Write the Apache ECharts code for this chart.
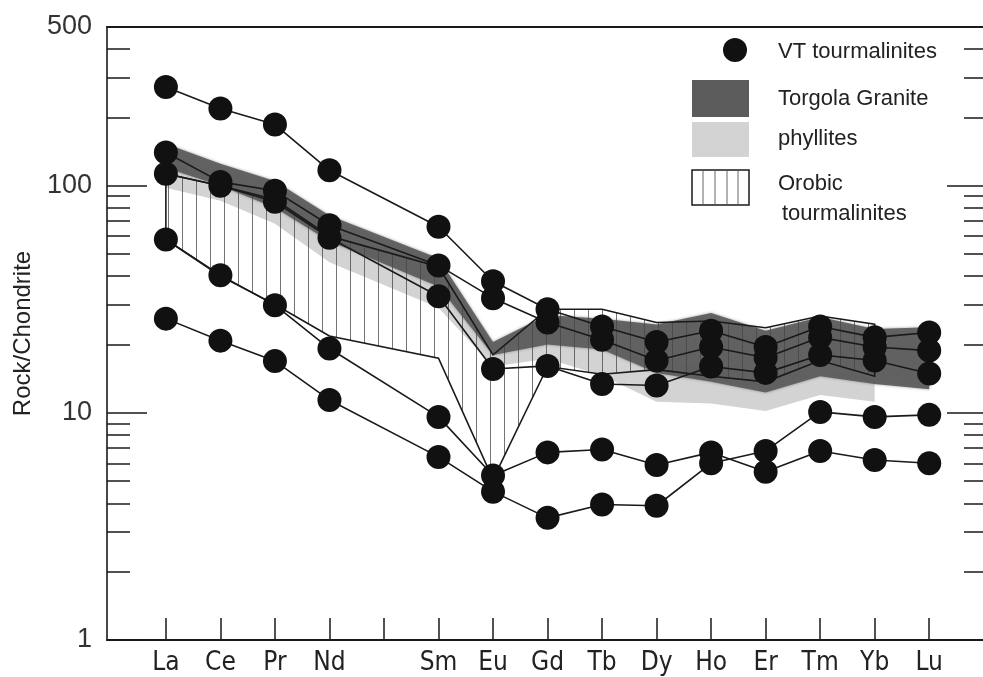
<!DOCTYPE html>
<html>
<head>
<meta charset="utf-8">
<script src="https://cdn.jsdelivr.net/npm/echarts@6/dist/echarts.min.js"></script>
<style>
  html, body { margin: 0; padding: 0; background: #fff; }
  #chart { width: 983px; height: 677px; }
</style>
</head>
<body>
<div id="chart"></div>
<script>
// REE 球粒隕石標準化圖 — VT tourmalinites vs Torgola / phyllites / Orobic 範圍
//   x：稀土元素序（Pm 無資料，只留刻度）；y：Rock/Chondrite 對數軸 1–500

const ELEMENTS = ["La", "Ce", "Pr", "Nd", "Pm", "Sm", "Eu", "Gd", "Tb", "Dy", "Ho", "Er", "Tm", "Yb", "Lu"];
const X_LABELS = ["La", "Ce", "Pr", "Nd", "", "Sm", "Eu", "Gd", "Tb", "Dy", "Ho", "Er", "Tm", "Yb", "Lu"];

// VT tourmalinites（黑點連線）
const vt1 = [272, 219, 186, 117, null, 66, 38, 28.6, 24, 20.5, 23, 19.5, 24, 21.5, 22.6];
const vt2 = [140, 104, 95, 67, null, 44.6, 32, 25, 21, 17, 19.5, 17.5, 21.5, 19.5, 18.8];
const vt3 = [113, 100, 85, 59, null, 32.6, 15.6, 16.1, 13.4, 13.2, 16, 15, 18, 17, 14.9];
const vt4 = [58, 40.4, 29.8, 19.2, null, 9.6, 5.3, 6.7, 6.9, 5.9, 6.7, 5.5, 6.8, 6.2, 6.0];
const vt5 = [26, 20.8, 16.9, 11.4, null, 6.4, 4.5, 3.45, 3.95, 3.9, 6.0, 6.8, 10.1, 9.6, 9.8];

// Torgola Granite 範圍（深灰）
const torgolaUpper = [153, 125, 105, 74, null, 48, 20.5, 27, 26, 24.5, 27.5, 23, 26.4, 23.4, 23.8];
const torgolaLower = [120, 100, 80, 57, null, 36, 18, 20, 19, 15, 13.7, 12.3, 14.5, 13.4, 12.7];

// phyllites 範圍（淺灰）
const phylUpper = [128, 108, 88, 63, null, 40, 18, 21, 19, 17, 16, 14.5, 16, 14, null];
const phylLower = [98, 86, 68, 46, null, 29, 16, 17.3, 14.6, 11.2, 11, 10.2, 12, 11.2, null];

// Orobic tourmalinites 範圍（直線陰影）
const orobicUpper = [113, 100, 87, 60, null, 44, 18, 28.6, 28.6, 25, 25.4, 23.7, 26.7, 24.6, null];
const orobicLower = [58, 40, 30, 21.8, null, 17.4, 5.1, 16, 14.8, 15.5, 14.5, 13.7, 17, 14.5, null];

// 刻度
const Y_LABEL_VALUES = [1, 10, 100, 500];
const Y_MAJOR_TICKS = [1, 10, 100];
const Y_MINOR_TICKS = [2, 3, 4, 5, 6, 7, 8, 9, 20, 30, 40, 50, 60, 70, 80, 90, 200, 300, 400];
const X_TICKS = ELEMENTS.map((_, i) => i);

const INK = "#1a1a1a";
const FONT = "'Liberation Sans', Arial, sans-serif";
const NARROW = "'Liberation Sans Narrow', 'DejaVu Sans Condensed', 'Liberation Sans', sans-serif";

// ── helpers ──────────────────────────────────────────────────────────
function pairs(arr) {
  const out = [];
  arr.forEach((v, i) => { if (v != null) out.push([i, v]); });
  return out;
}

function hatchPattern() {
  const c = document.createElement("canvas");
  c.width = 14; c.height = 4;
  const g = c.getContext("2d");
  g.fillStyle = "rgba(70,70,70,0.75)";
  g.fillRect(0, 0, 1, 4);
  return c;
}

function bandSeries(name, upper, lower, style, z) {
  return {
    name, type: "custom", coordinateSystem: "cartesian2d", z,
    silent: true, clip: true,
    data: [[0, upper[0]]],
    renderItem(params, api) {
      const pts = [];
      upper.forEach((v, i) => { if (v != null) pts.push(api.coord([i, v])); });
      for (let i = lower.length - 1; i >= 0; i--) {
        if (lower[i] != null) pts.push(api.coord([i, lower[i]]));
      }
      return { type: "polygon", shape: { points: pts }, style };
    },
  };
}

// ── chart ────────────────────────────────────────────────────────────
const chart = echarts.init(document.getElementById("chart"), null, { renderer: "canvas" });

const logBase = { type: "log", logBase: 10, min: 1, max: 500, gridIndex: 0, splitLine: { show: false } };
const noLine = { show: false, onZero: false };

const series = [
  bandSeries("phyllites", phylUpper, phylLower, { fill: "#d3d3d3" }, 1),
  bandSeries("Torgola Granite", torgolaUpper, torgolaLower,
    { fill: "#5c5c5c", opacity: 0.92, shadowBlur: 3, shadowColor: "rgba(80,80,80,0.6)" }, 2),
  bandSeries("Orobic tourmalinites", orobicUpper, orobicLower,
    { fill: { image: hatchPattern(), repeat: "repeat" }, stroke: INK, lineWidth: 1.6 }, 3),
];

[vt1, vt2, vt3, vt4, vt5].forEach((arr, k) => {
  series.push({
    name: "VT tourmalinites " + (k + 1), type: "line", z: 5,
    data: pairs(arr),
    symbol: "circle", symbolSize: 24, showSymbol: true,
    itemStyle: { color: "#111", borderWidth: 0 },
    lineStyle: { color: INK, width: 1.6 },
    animation: false, silent: true,
  });
});

const legendX = 692;
chart.setOption({
  backgroundColor: "#fff", animation: false,
  grid: { left: 107, top: 27, width: 880, height: 613, containLabel: false, outerBoundsMode: "none" },
  xAxis: [
    {
      type: "value", min: -1.08, max: 15.06, position: "bottom",
      axisLine: { show: true, onZero: false, lineStyle: { color: INK, width: 2 } },
      axisTick: { show: true, inside: true, length: 22, customValues: X_TICKS, lineStyle: { color: INK, width: 1.5 } },
      axisLabel: {
        customValues: X_TICKS, margin: 10,
        formatter: v => X_LABELS[Math.round(v)] ?? "",
        color: "#222", fontSize: 26, fontFamily: NARROW,
      },
      splitLine: { show: false },
    },
    {
      type: "value", min: -1.08, max: 15.06, position: "top",
      axisLine: { show: true, onZero: false, lineStyle: { color: INK, width: 2 } },
      axisTick: { show: false }, axisLabel: { show: false }, splitLine: { show: false },
    },
  ],
  yAxis: [
    {
      ...logBase, position: "left",
      name: "Rock/Chondrite", nameLocation: "middle", nameGap: 72, nameRotate: 90,
      nameTextStyle: { color: "#222", fontSize: 24, fontFamily: FONT },
      axisLine: { show: true, onZero: false, lineStyle: { color: INK, width: 1.6 } },
      axisTick: { show: true, inside: true, length: 40, customValues: Y_MAJOR_TICKS, lineStyle: { color: INK, width: 1.5 } },
      axisLabel: { customValues: Y_LABEL_VALUES, margin: 15, color: "#333", fontSize: 27, fontFamily: FONT },
    },
    {
      ...logBase, position: "left",
      axisLine: noLine,
      axisTick: { show: true, inside: true, length: 23, customValues: Y_MINOR_TICKS, lineStyle: { color: INK, width: 1.5 } },
      axisLabel: { show: false },
    },
    {
      ...logBase, position: "right",
      axisLine: { show: true, onZero: false, lineStyle: { color: INK, width: 1.6 } },
      axisTick: { show: true, inside: true, length: 40, customValues: Y_MAJOR_TICKS, lineStyle: { color: INK, width: 1.5 } },
      axisLabel: { show: false },
    },
    {
      ...logBase, position: "right",
      axisLine: noLine,
      axisTick: { show: true, inside: true, length: 23, customValues: Y_MINOR_TICKS, lineStyle: { color: INK, width: 1.5 } },
      axisLabel: { show: false },
    },
  ],
  graphic: [
    { type: "circle", shape: { cx: 735, cy: 50, r: 12 }, style: { fill: "#111" }, z: 20 },
    { type: "text", x: 778, y: 52, style: { text: "VT tourmalinites", fill: "#222", font: `22px ${FONT}`, textVerticalAlign: "middle" }, z: 20 },
    { type: "rect", shape: { x: legendX, y: 80, width: 57, height: 37 }, style: { fill: "#5c5c5c" }, z: 20 },
    { type: "text", x: 778, y: 99, style: { text: "Torgola Granite", fill: "#222", font: `22px ${FONT}`, textVerticalAlign: "middle" }, z: 20 },
    { type: "rect", shape: { x: legendX, y: 122, width: 57, height: 35 }, style: { fill: "#d3d3d3" }, z: 20 },
    { type: "text", x: 778, y: 139, style: { text: "phyllites", fill: "#222", font: `22px ${FONT}`, textVerticalAlign: "middle" }, z: 20 },
    { type: "rect", shape: { x: legendX, y: 170, width: 57, height: 35 }, style: { fill: "#fff", stroke: INK, lineWidth: 1.5 }, z: 20 },
    ...[703, 715, 727, 738].map(x => ({
      type: "line", shape: { x1: x, y1: 171, x2: x, y2: 204 }, style: { stroke: "#666", lineWidth: 1 }, z: 21,
    })),
    { type: "text", x: 778, y: 184, style: { text: "Orobic", fill: "#222", font: `22px ${FONT}`, textVerticalAlign: "middle" }, z: 20 },
    { type: "text", x: 782, y: 214, style: { text: "tourmalinites", fill: "#222", font: `22px ${FONT}`, textVerticalAlign: "middle" }, z: 20 },
  ],
  series,
});
</script>
</body>
</html>
